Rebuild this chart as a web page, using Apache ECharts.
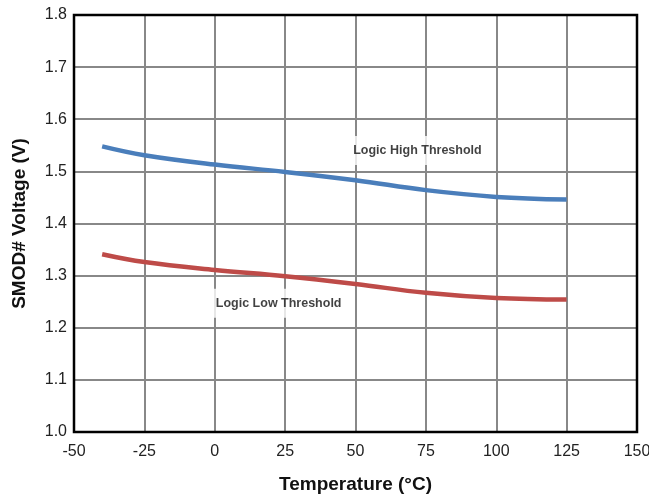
<!DOCTYPE html>
<html><head><meta charset="utf-8">
<script src="https://cdn.jsdelivr.net/npm/echarts@6/dist/echarts.min.js"></script>
<style>html,body{margin:0;padding:0;background:#fff;overflow:hidden}#c{width:649px;height:495px}</style>
</head><body><div id="c"></div>
<script>
const temps = [-40, -25, 0, 25, 50, 75, 100, 125];
const highThreshold = [1.548, 1.531, 1.513, 1.499, 1.483, 1.464, 1.451, 1.446];
const lowThreshold = [1.341, 1.326, 1.311, 1.299, 1.284, 1.267, 1.257, 1.254];
const labelHigh = {name: 'Logic High Threshold', x: 72, y: 1.540};
const labelLow = {name: 'Logic Low Threshold', x: 22.7, y: 1.247};

const chart = echarts.init(document.getElementById('c'), null, {renderer: 'canvas'});
const font = 'Liberation Sans, Arial, sans-serif';
const labelSeries = (l) => ({
  type: 'scatter', symbolSize: 0, silent: true, z: 5,
  data: [[l.x, l.y]],
  label: {show: true, position: 'inside', formatter: l.name, color: '#111',
    fontFamily: font, fontWeight: 'bold', fontSize: 12.5,
    backgroundColor: '#fff', padding: [8, 4]}
});
chart.setOption({
  animation: false,
  grid: {left: 74, right: 12, top: 15, bottom: 63, show: true, borderColor: '#000', borderWidth: 2.5, z: 3,
    containLabel: false, outerBoundsMode: 'none'},
  xAxis: {type: 'value', min: -50, max: 150, interval: 25,
    name: 'Temperature (°C)', nameLocation: 'middle', nameGap: 43,
    nameTextStyle: {fontFamily: font, fontWeight: 'bold', fontSize: 19, color: '#111'},
    axisLine: {show: false}, axisTick: {show: false},
    axisLabel: {fontFamily: font, fontSize: 16, color: '#222', margin: 12},
    splitLine: {show: true, lineStyle: {color: '#888', width: 2}}},
  yAxis: {type: 'value', min: 1.0, max: 1.8, interval: 0.1,
    name: 'SMOD# Voltage (V)', nameLocation: 'middle', nameGap: 45,
    nameTextStyle: {fontFamily: font, fontWeight: 'bold', fontSize: 19, color: '#111'},
    axisLine: {show: false}, axisTick: {show: false},
    axisLabel: {fontFamily: font, fontSize: 16, color: '#222', margin: 7, formatter: v => v.toFixed(1)},
    splitLine: {show: true, lineStyle: {color: '#888', width: 2}}},
  series: [
    {type: 'line', smooth: 0.4, symbol: 'none', z: 4, data: temps.map((t, i) => [t, highThreshold[i]]),
      lineStyle: {color: '#4a7ebb', width: 4.5}},
    {type: 'line', smooth: 0.4, symbol: 'none', z: 4, data: temps.map((t, i) => [t, lowThreshold[i]]),
      lineStyle: {color: '#be4b48', width: 4.5}},
    labelSeries(labelHigh),
    labelSeries(labelLow)
  ]
});
</script></body></html>
